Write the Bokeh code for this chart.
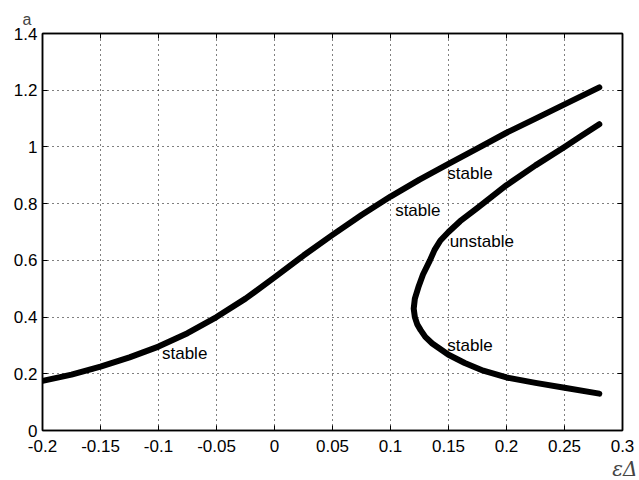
from bokeh.plotting import figure
from bokeh.models import LinearAxis, Range1d, Label, FixedTicker, CustomJSTickFormatter, Title
from bokeh.embed import file_html
from bokeh.resources import INLINE

# upper (stable) branch
upper_x = [-0.2, -0.175, -0.15, -0.125, -0.1, -0.075, -0.05, -0.025, 0.0, 0.025, 0.05,
           0.075, 0.1, 0.125, 0.15, 0.175, 0.2, 0.225, 0.25, 0.28]
upper_a = [0.175, 0.197, 0.225, 0.258, 0.296, 0.343, 0.40, 0.465, 0.54, 0.617, 0.69,
           0.76, 0.825, 0.885, 0.94, 0.995, 1.05, 1.10, 1.15, 1.21]

# folded branch (from top end, through turning point, to bottom end)
fold_x = [0.28, 0.265, 0.25, 0.225, 0.2, 0.175, 0.16, 0.15, 0.143, 0.138, 0.134, 0.128, 0.124, 0.121,
          0.12, 0.121, 0.123, 0.126, 0.13, 0.136, 0.15, 0.164, 0.18, 0.2, 0.225, 0.25, 0.28]
fold_a = [1.08, 1.04, 1.0, 0.935, 0.865, 0.785, 0.738, 0.70, 0.67, 0.637, 0.60, 0.55, 0.505, 0.465,
          0.43, 0.40, 0.375, 0.354, 0.33, 0.307, 0.267, 0.238, 0.211, 0.187, 0.168, 0.151, 0.13]

# annotations
ann_text = ["stable", "stable", "stable", "unstable", "stable"]
ann_x = [-0.097, 0.104, 0.149, 0.151, 0.149]
ann_a = [0.27, 0.775, 0.905, 0.665, 0.30]

x_ticks = [-0.2, -0.15, -0.1, -0.05, 0, 0.05, 0.1, 0.15, 0.2, 0.25, 0.3]
y_ticks = [0, 0.2, 0.4, 0.6, 0.8, 1.0, 1.2, 1.4]

FONT = "Liberation Sans"

p = figure(width=639, height=480, output_backend="svg", toolbar_location=None,
           x_range=Range1d(-0.2, 0.3), y_range=Range1d(0, 1.4),
           min_border_left=42, min_border_right=17, min_border_top=33, min_border_bottom=48,
           x_axis_location=None, y_axis_location=None)
p.background_fill_color = "white"
p.border_fill_color = "white"
p.outline_line_color = "black"
p.outline_line_width = 1.5

fmt = CustomJSTickFormatter(code="return String(Math.round(tick*100)/100);")
blank = CustomJSTickFormatter(code="return '';")

bx = LinearAxis(ticker=FixedTicker(ticks=x_ticks), formatter=fmt)
ly = LinearAxis(ticker=FixedTicker(ticks=y_ticks), formatter=fmt)
tx = LinearAxis(ticker=FixedTicker(ticks=x_ticks), formatter=blank, major_label_standoff=0)
ry = LinearAxis(ticker=FixedTicker(ticks=y_ticks), formatter=blank, major_label_standoff=0)
for ax in (bx, ly, tx, ry):
    ax.major_tick_in = 5
    ax.major_tick_out = 0
    ax.minor_tick_line_color = None
    ax.axis_line_color = "black"
    ax.axis_line_width = 1.5
    ax.major_tick_line_color = "black"
    ax.major_label_text_font = FONT
    ax.major_label_text_font_size = "17px"
    ax.major_label_text_color = "black"
bx.major_label_standoff = 9
ly.major_label_standoff = 5
p.add_layout(bx, "below")
p.add_layout(ly, "left")
p.add_layout(tx, "above")
p.add_layout(ry, "right")

p.xgrid.ticker = FixedTicker(ticks=x_ticks)
p.ygrid.ticker = FixedTicker(ticks=y_ticks)
for g in (p.xgrid, p.ygrid):
    g.grid_line_color = "black"
    g.grid_line_dash = "1 4"
    g.grid_line_width = 1

p.line(upper_x, upper_a, line_color="black", line_width=6, line_join="round", line_cap="round")
p.line(fold_x, fold_a, line_color="black", line_width=6, line_join="round", line_cap="round")

for t, x, a in zip(ann_text, ann_x, ann_a):
    p.add_layout(Label(x=x, y=a, text=t, text_font=FONT, text_font_size="17px",
                       text_baseline="middle", text_align="left", text_color="black"))

p.add_layout(Title(text="a", align="left", offset=-20, standoff=12, text_font=FONT,
                   text_font_size="16px", text_font_style="normal"), "above")
p.add_layout(Title(text="εΔ", align="right", offset=-15, standoff=0, text_font="DejaVu Serif",
                   text_font_size="20px", text_font_style="italic"), "below")

open("out.html", "w").write(file_html(p, INLINE))
